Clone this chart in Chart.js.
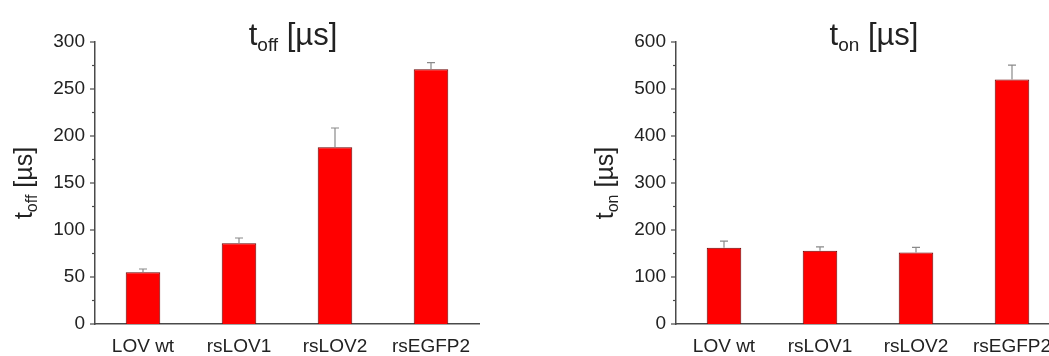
<!DOCTYPE html>
<html>
<head>
<meta charset="utf-8">
<script src="https://cdn.jsdelivr.net/npm/chart.js@4.4.0/dist/chart.umd.min.js"></script>
<style>
    html, body { margin: 0; padding: 0; background: #fff; overflow: hidden; }
    body { width: 1049px; height: 356px; position: relative; }
    .panel { position: absolute; top: 0; width: 520px; height: 356px; }
    #panel-off { left: 0; }
    #panel-on { left: 581px; }
</style>
</head>
<body>
<div class="panel" id="panel-off"><canvas id="chart-off"></canvas></div>
<div class="panel" id="panel-on"><canvas id="chart-on"></canvas></div>
<script>
// Proteins compared in both panels
const proteins = ['LOV wt', 'rsLOV1', 'rsLOV2', 'rsEGFP2'];

// Off-switching times (µs) and their upper error
const tOff = [55, 86, 188, 271];
const tOffErr = [3.5, 5.5, 20.5, 7];

// On-switching times (µs) and their upper error
const tOn = [162, 156, 152, 520];
const tOnErr = [14.5, 8, 11, 31];

const FONT = '"Liberation Sans", Arial, sans-serif';
const INK = '#222';
const AXIS = '#4a4a4a';

// Draws "t" + subscript + " [µs]" starting at x, baseline y
function drawSubLabel(ctx, x, y, sub, size, align) {
    const subSize = Math.round(size * 0.62);
    ctx.font = size + 'px ' + FONT;
    const wT = ctx.measureText('t').width;
    const wRest = ctx.measureText(' [µs]').width;
    ctx.font = subSize + 'px ' + FONT;
    const wSub = ctx.measureText(sub).width;
    const total = wT + wSub + wRest;
    let x0 = align === 'center' ? x - total / 2 : x;

    ctx.fillStyle = INK;
    ctx.textAlign = 'left';
    ctx.textBaseline = 'alphabetic';
    ctx.font = size + 'px ' + FONT;
    ctx.fillText('t', x0, y);
    ctx.font = subSize + 'px ' + FONT;
    ctx.fillText(sub, x0 + wT, y + size * 0.2);
    ctx.font = size + 'px ' + FONT;
    ctx.fillText(' [µs]', x0 + wT + wSub, y);
}

// Titles, minor/major y ticks and upward error bars
const decorations = {
    id: 'decorations',
    afterDatasetsDraw(chart, args, opts) {
        const ctx = chart.ctx;
        const area = chart.chartArea;
        const yScale = chart.scales.y;

        // error bars
        const meta = chart.getDatasetMeta(0);
        const values = chart.data.datasets[0].data;
        ctx.save();
        ctx.strokeStyle = '#8a8a8a';
        ctx.lineWidth = 1.2;
        meta.data.forEach((bar, i) => {
            const top = yScale.getPixelForValue(values[i]);
            const tip = yScale.getPixelForValue(values[i] + opts.errors[i]);
            ctx.beginPath();
            ctx.moveTo(bar.x, top);
            ctx.lineTo(bar.x, tip);
            ctx.moveTo(bar.x - 4, tip);
            ctx.lineTo(bar.x + 4, tip);
            ctx.stroke();
        });

        // y tick marks: major at labels, minor halfway
        ctx.strokeStyle = AXIS;
        ctx.lineWidth = 1.2;
        const ticks = yScale.ticks;
        ticks.forEach((t, i) => {
            const py = yScale.getPixelForValue(t.value);
            ctx.beginPath();
            ctx.moveTo(area.left - 5, py);
            ctx.lineTo(area.left, py);
            ctx.stroke();
            if (i < ticks.length - 1) {
                const my = yScale.getPixelForValue((t.value + ticks[i + 1].value) / 2);
                ctx.beginPath();
                ctx.moveTo(area.left - 3, my);
                ctx.lineTo(area.left, my);
                ctx.stroke();
            }
        });

        // panel title
        drawSubLabel(ctx, (area.left + area.right) / 2 + 6, 45, opts.sub, 31, 'center');

        // rotated y axis title
        ctx.translate(32, (area.top + area.bottom) / 2);
        ctx.rotate(-Math.PI / 2);
        drawSubLabel(ctx, 0, 0, opts.sub, 25, 'center');
        ctx.restore();
    }
};

function makeChart(canvasId, values, errors, max, step, sub) {
    return new Chart(document.getElementById(canvasId), {
        type: 'bar',
        data: {
            labels: proteins,
            datasets: [{
                data: values,
                backgroundColor: '#ff0000',
                borderColor: '#6a0000',
                borderWidth: 1,
                borderSkipped: 'bottom',
                barPercentage: 0.36,
                categoryPercentage: 1.0
            }]
        },
        options: {
            responsive: true,
            maintainAspectRatio: false,
            animation: false,
            layout: { padding: { top: 42, right: 41, bottom: 0, left: 0 } },
            plugins: {
                legend: { display: false },
                tooltip: { enabled: false },
                decorations: { errors: errors, sub: sub }
            },
            scales: {
                x: {
                    offset: true,
                    grid: { display: false, drawTicks: false },
                    border: { display: true, color: AXIS, width: 1.5 },
                    ticks: { color: INK, font: { family: FONT, size: 19 }, padding: 11 },
                    afterFit(scale) { scale.height = 32; }
                },
                y: {
                    min: 0,
                    max: max,
                    grid: { display: false, drawTicks: false },
                    border: { display: true, color: AXIS, width: 1.5 },
                    ticks: { stepSize: step, color: INK, font: { family: FONT, size: 19 }, padding: 10 },
                    afterFit(scale) { scale.width = 95; }
                }
            }
        },
        plugins: [decorations]
    });
}

makeChart('chart-off', tOff, tOffErr, 300, 50, 'off');
makeChart('chart-on', tOn, tOnErr, 600, 100, 'on');
</script>
</body>
</html>
